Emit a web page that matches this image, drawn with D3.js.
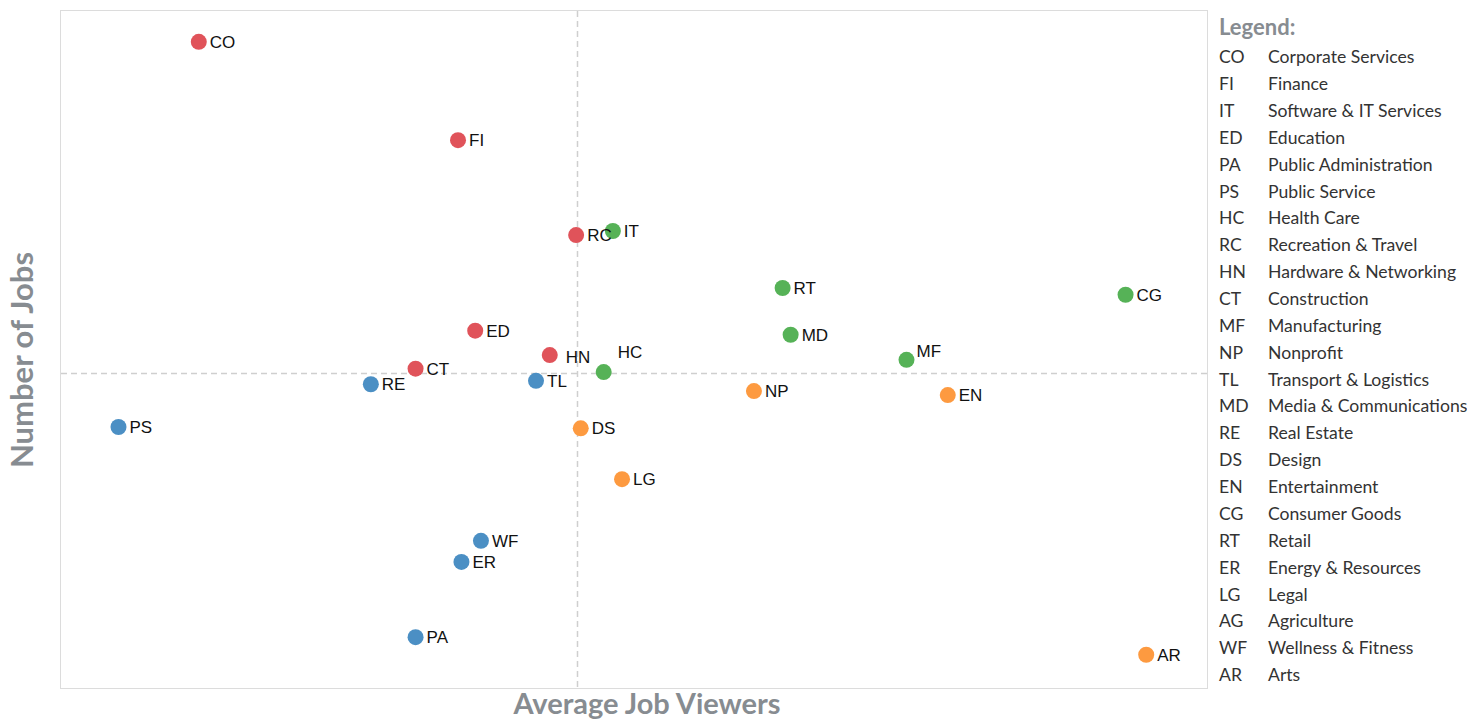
<!DOCTYPE html>
<html>
<head>
<meta charset="utf-8">
<script src="https://cdn.jsdelivr.net/npm/d3@7"></script>
<style>
  html, body { margin: 0; padding: 0; background: #fff; }
  svg { display: block; }
</style>
</head>
<body>
<svg id="chart" width="1467" height="720"></svg>
<script>
// ---- Data ----
const pointCodes = ["CO","FI","RC","IT","RT","CG","ED","MD","HN","HC","MF","CT","RE","TL","NP","EN","PS","DS","LG","WF","ER","PA","AR"];
const avgViewers = [12.1,34.7,45.0,48.2,63.0,92.9,36.2,63.7,42.7,47.4,73.8,31.0,27.1,41.5,60.5,77.4,5.1,45.4,49.0,36.7,35.0,31.0,94.7];
const numJobs    = [95.3,80.8,66.8,67.4,59.0,58.0,52.7,52.1,49.1,46.6,48.4,47.1,44.8,45.3,43.8,43.2,38.5,38.3,30.8,21.7,18.6,7.5,4.9];
const viewersMean = 45.1;
const jobsMean = 46.5;

const legendCodes = ["CO","FI","IT","ED","PA","PS","HC","RC","HN","CT","MF","NP","TL","MD","RE","DS","EN","CG","RT","ER","LG","AG","WF","AR"];
const legendNames = ["Corporate Services","Finance","Software & IT Services","Education","Public Administration","Public Service","Health Care","Recreation & Travel","Hardware & Networking","Construction","Manufacturing","Nonprofit","Transport & Logistics","Media & Communications","Real Estate","Design","Entertainment","Consumer Goods","Retail","Energy & Resources","Legal","Agriculture","Wellness & Fitness","Arts"];

// ---- Layout / style ----
const plot = { left: 60, top: 10, right: 1207, bottom: 688 };
const quadColors = { tl: "#e0535a", tr: "#56b257", bl: "#4b8fc4", br: "#fd9a40" };
const labelOffsets = { HN: [16, 2], HC: [14, -20], MF: [10, -9] };

const svg = d3.select("#chart");

const x = d3.scaleLinear().domain([0, 100]).range([plot.left, plot.right]);
const y = d3.scaleLinear().domain([0, 100]).range([plot.bottom, plot.top]);

// frame
svg.append("rect")
  .attr("x", plot.left + 0.5).attr("y", plot.top + 0.5)
  .attr("width", plot.right - plot.left).attr("height", plot.bottom - plot.top)
  .attr("fill", "none").attr("stroke", "#dcdcdc").attr("stroke-width", 1);

// mean lines
svg.append("line")
  .attr("x1", Math.round(x(viewersMean)) + 0.5).attr("x2", Math.round(x(viewersMean)) + 0.5)
  .attr("y1", plot.top + 1).attr("y2", plot.bottom)
  .attr("stroke", "#cfcfcf").attr("stroke-width", 1.5).attr("stroke-dasharray", "6,4");
svg.append("line")
  .attr("x1", plot.left + 1).attr("x2", plot.right)
  .attr("y1", Math.round(y(jobsMean)) + 0.5).attr("y2", Math.round(y(jobsMean)) + 0.5)
  .attr("stroke", "#cfcfcf").attr("stroke-width", 1.5).attr("stroke-dasharray", "6,4");

const points = pointCodes.map((c, i) => ({ code: c, vx: avgViewers[i], vy: numJobs[i] }));
function quad(d) {
  const top = d.vy >= jobsMean;
  const right = d.vx > viewersMean;
  return top ? (right ? "tr" : "tl") : (right ? "br" : "bl");
}

const g = svg.append("g");
g.selectAll("circle").data(points).join("circle")
  .attr("cx", d => x(d.vx)).attr("cy", d => y(d.vy))
  .attr("r", 8)
  .attr("fill", d => quadColors[quad(d)]);

g.selectAll("text").data(points).join("text")
  .attr("x", d => x(d.vx) + (labelOffsets[d.code] ? labelOffsets[d.code][0] : 11))
  .attr("y", d => y(d.vy) + (labelOffsets[d.code] ? labelOffsets[d.code][1] : 0))
  .attr("dy", "0.36em")
  .attr("font-family", "Liberation Sans, Arial, sans-serif")
  .attr("font-size", 17)
  .attr("fill", "#111")
  .text(d => d.code);

// axis titles
svg.append("text")
  .attr("x", 647).attr("y", 714)
  .attr("text-anchor", "middle")
  .attr("font-family", "Lato, 'Open Sans', sans-serif")
  .attr("font-weight", "bold").attr("font-size", 29)
  .attr("fill", "#878c91")
  .text("Average Job Viewers");

svg.append("text")
  .attr("transform", "translate(33,360) rotate(-90)")
  .attr("text-anchor", "middle")
  .attr("font-family", "Lato, 'Open Sans', sans-serif")
  .attr("font-weight", "bold").attr("font-size", 31)
  .attr("fill", "#878c91")
  .text("Number of Jobs");

// legend
const lg = svg.append("g").attr("font-family", "Lato, 'Open Sans', sans-serif");
lg.append("text")
  .attr("x", 1219).attr("y", 35)
  .attr("font-weight", "bold").attr("font-size", 22)
  .attr("fill", "#878c91")
  .text("Legend:");

const rowY = d3.scaleLinear().domain([0, legendCodes.length - 1]).range([57, 675]);
const rows = lg.selectAll("g.row").data(legendCodes).join("g").attr("class", "row");
rows.append("text")
  .attr("x", 1219).attr("y", (d, i) => rowY(i)).attr("dy", "0.35em")
  .attr("font-size", 17.6).attr("fill", "#333")
  .text(d => d);
rows.append("text")
  .attr("x", 1268).attr("y", (d, i) => rowY(i)).attr("dy", "0.35em")
  .attr("font-size", 17.6).attr("fill", "#333")
  .text((d, i) => legendNames[i]);
</script>
</body>
</html>
